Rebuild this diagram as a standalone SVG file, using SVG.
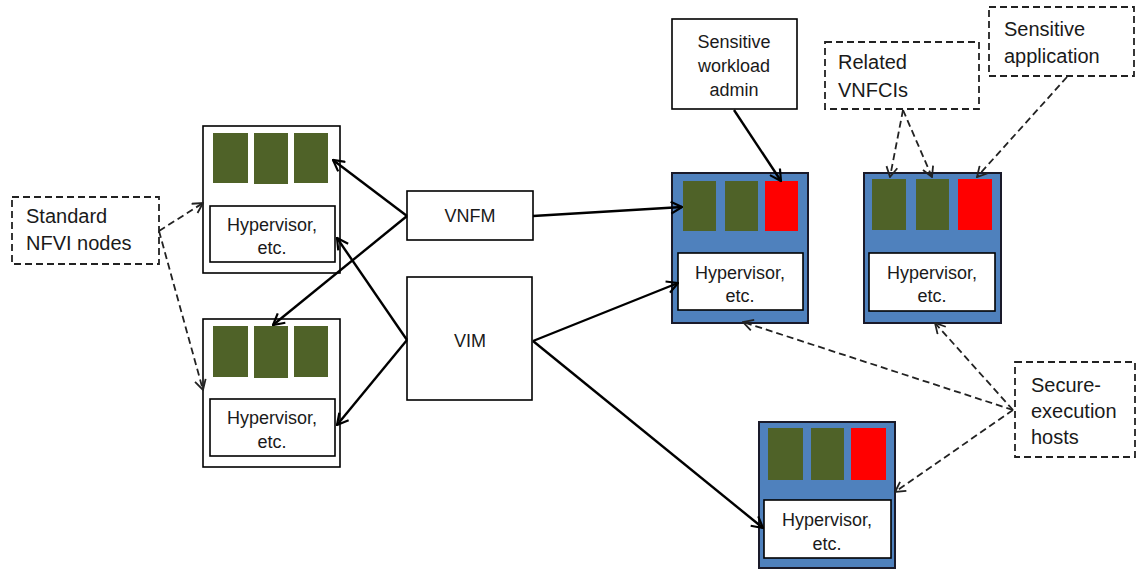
<svg xmlns="http://www.w3.org/2000/svg" width="1136" height="570" viewBox="0 0 1136 570">
<style>
text{font-family:"Liberation Sans",Arial,sans-serif;font-size:18px;fill:#1a1a1a;}
.c{text-anchor:middle;}
.lg{font-size:20px;}
.box{fill:#fff;stroke:#000;stroke-width:1.6;}
.dbox{fill:#fff;stroke:#222;stroke-width:1.8;stroke-dasharray:7,4;}
.host{fill:#4f81bd;stroke:#1a1a2a;stroke-width:2;}
.g{fill:#4f6228;}
.r{fill:#ff0000;}
.solid{stroke:#000;stroke-width:2.4;fill:none;marker-end:url(#a);}
.dash{stroke:#222;stroke-width:1.8;stroke-dasharray:7,4;fill:none;marker-end:url(#d);}
</style>
<defs>
<marker id="a" viewBox="0 0 14 14" markerWidth="14" markerHeight="14" refX="13" refY="7" orient="auto" markerUnits="userSpaceOnUse">
<path d="M2,1 L13,7 L2,13" fill="none" stroke="#000" stroke-width="2.2"/>
</marker>
<marker id="d" viewBox="0 0 13 13" markerWidth="13" markerHeight="13" refX="12" refY="6.5" orient="auto" markerUnits="userSpaceOnUse">
<path d="M2,1 L12,6.5 L2,12" fill="none" stroke="#222" stroke-width="1.8"/>
</marker>
</defs>

<g id="nfvi1">
<rect class="box" x="203" y="126" width="137" height="147"/>
<rect class="g" x="213" y="133" width="35" height="50"/>
<rect class="g" x="254" y="133" width="34" height="51"/>
<rect class="g" x="294" y="133" width="34" height="50"/>
<rect class="box" x="210" y="206" width="125" height="56"/>
<text class="c" x="272" y="231">Hypervisor,</text>
<text class="c" x="272" y="254">etc.</text>
</g>

<g id="nfvi2">
<rect class="box" x="203" y="319" width="137" height="148"/>
<rect class="g" x="213" y="326" width="35" height="51"/>
<rect class="g" x="254" y="326" width="34" height="52"/>
<rect class="g" x="294" y="326" width="34" height="51"/>
<rect class="box" x="210" y="399" width="125" height="57"/>
<text class="c" x="272" y="424">Hypervisor,</text>
<text class="c" x="272" y="448">etc.</text>
</g>

<g id="standard">
<rect class="dbox" x="12" y="197" width="147" height="67"/>
<text class="lg" x="26" y="223">Standard</text>
<text class="lg" x="26" y="250">NFVI nodes</text>
</g>

<g id="vnfm">
<rect class="box" x="407" y="191" width="126" height="49"/>
<text class="c" x="470" y="222">VNFM</text>
</g>

<g id="vim">
<rect class="box" x="407" y="277" width="125" height="123"/>
<text class="c" x="470" y="347">VIM</text>
</g>

<g id="admin">
<rect class="box" x="672" y="19" width="125" height="90"/>
<text class="c" x="734" y="48">Sensitive</text>
<text class="c" x="734" y="72">workload</text>
<text class="c" x="734" y="96">admin</text>
</g>

<g id="host1">
<rect class="host" x="672" y="173" width="136" height="150"/>
<rect class="g" x="683" y="181" width="33" height="50"/>
<rect class="g" x="725" y="181" width="33" height="50"/>
<rect class="r" x="765" y="181" width="33" height="50"/>
<rect class="box" x="678" y="253" width="125" height="57"/>
<text class="c" x="740" y="279">Hypervisor,</text>
<text class="c" x="740" y="302">etc.</text>
</g>

<g id="host2">
<rect class="host" x="864" y="173" width="137" height="150"/>
<rect class="g" x="872" y="179" width="34" height="51"/>
<rect class="g" x="916" y="179" width="33" height="51"/>
<rect class="r" x="958" y="179" width="34" height="51"/>
<rect class="box" x="869" y="253" width="126" height="58"/>
<text class="c" x="932" y="279">Hypervisor,</text>
<text class="c" x="932" y="302">etc.</text>
</g>

<g id="host3">
<rect class="host" x="759" y="422" width="136" height="146"/>
<rect class="g" x="768" y="428" width="35" height="52"/>
<rect class="g" x="811" y="428" width="33" height="52"/>
<rect class="r" x="851" y="428" width="35" height="52"/>
<rect class="box" x="764" y="500" width="127" height="58"/>
<text class="c" x="827" y="526">Hypervisor,</text>
<text class="c" x="827" y="550">etc.</text>
</g>

<g id="related">
<rect class="dbox" x="825" y="42" width="154" height="67"/>
<text class="lg" x="838" y="69">Related</text>
<text class="lg" x="838" y="97">VNFCIs</text>
</g>

<g id="sensapp">
<rect class="dbox" x="989" y="7" width="145" height="69"/>
<text class="lg" x="1004" y="36">Sensitive</text>
<text class="lg" x="1004" y="63">application</text>
</g>

<g id="secure">
<rect class="dbox" x="1015" y="362" width="120" height="95"/>
<text class="lg" x="1031" y="392">Secure-</text>
<text class="lg" x="1031" y="418">execution</text>
<text class="lg" x="1031" y="444">hosts</text>
</g>

<g id="connectors">
<line class="solid" x1="407" y1="216" x2="333" y2="160"/>
<line class="solid" x1="407" y1="216" x2="273" y2="325"/>
<line class="solid" x1="407" y1="340" x2="337" y2="238"/>
<line class="solid" x1="407" y1="340" x2="337" y2="425"/>
<line class="solid" x1="533" y1="216" x2="682" y2="207"/>
<line class="solid" x1="533" y1="341" x2="678" y2="283"/>
<line class="solid" x1="533" y1="341" x2="763" y2="528"/>
<line class="solid" x1="734" y1="110" x2="781" y2="181"/>
<line class="dash" x1="159" y1="231" x2="203" y2="203"/>
<line class="dash" x1="159" y1="231" x2="203" y2="390"/>
<line class="dash" x1="903" y1="110" x2="890" y2="177"/>
<line class="dash" x1="903" y1="110" x2="932" y2="177"/>
<line class="dash" x1="1067" y1="77" x2="977" y2="177"/>
<line class="dash" x1="1013" y1="410" x2="743" y2="322"/>
<line class="dash" x1="1013" y1="410" x2="935" y2="323"/>
<line class="dash" x1="1013" y1="410" x2="895" y2="492"/>
</g>
</svg>
